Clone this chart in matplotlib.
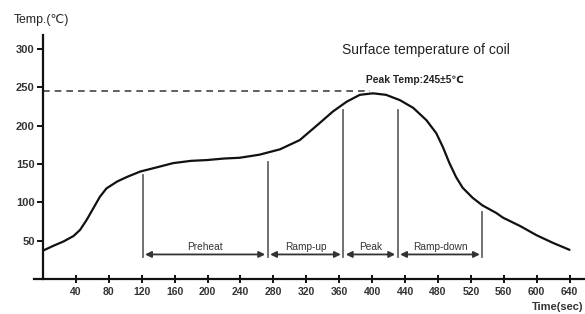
import matplotlib
matplotlib.use("Agg")
import matplotlib.pyplot as plt

# Data
time_s = [0, 12, 25, 37, 45, 53, 61, 69, 77, 90, 102, 118, 140, 158, 180, 199, 220, 239,
          263, 288, 312, 336, 352, 369, 385, 401, 417, 434, 450, 466, 478, 486, 494, 502,
          510, 522, 534, 551, 559, 580, 600, 620, 640]
temp_c = [37, 43, 49, 56, 64, 77, 92, 107, 118, 127, 133, 140, 146, 151, 154, 155, 157, 158,
          162, 169, 181, 203, 218, 231, 240, 242, 240, 233, 223, 207, 190, 172, 151, 133,
          119, 106, 96, 86, 80, 69, 57, 47, 38]

phase_bounds = [121, 273, 365, 431, 534]
bound_tops = [135, 152, 220, 220, 87]
phase_labels = ["Preheat", "Ramp-up", "Peak", "Ramp-down"]

peak_temp = 245
peak_time = 398

x_ticks = list(range(40, 641, 40))
y_ticks = [50, 100, 150, 200, 250, 300]

FONT = ["Liberation Sans", "DejaVu Sans"]
plt.rcParams["font.family"] = FONT

fig = plt.figure(figsize=(5.85, 3.14), dpi=100)
ax = fig.add_axes([34 / 585, 35 / 314, 552 / 585, 244 / 314])
ax.set_xlim(-11, 660)
ax.set_ylim(0, 318)

ax.spines["top"].set_visible(False)
ax.spines["right"].set_visible(False)
ax.spines["left"].set_position(("data", 0))
for s in ("left", "bottom"):
    ax.spines[s].set_linewidth(1.6)
    ax.spines[s].set_color("#111111")

ax.set_xticks(x_ticks)
ax.set_yticks(y_ticks)
ax.tick_params(axis="x", direction="inout", length=6, width=1.4, labelsize=7.5, pad=3, colors="#111111")
ax.tick_params(axis="y", direction="out", length=4, width=1.4, labelsize=8, pad=2, colors="#111111")
for lab in ax.get_xticklabels() + ax.get_yticklabels():
    lab.set_fontweight("bold")
    lab.set_color("#333333")

# Curve
ax.plot(time_s, temp_c, color="#111111", lw=1.6, solid_capstyle="round", solid_joinstyle="round")

# Dashed peak line
ax.plot([0, peak_time], [peak_temp, peak_temp], ls=(0, (4, 3)), color="#444444", lw=1.2)

# Phase boundaries
for b, top in zip(phase_bounds, bound_tops):
    ax.plot([b, b], [29, top], color="#666666", lw=1.3)

# Arrows and labels
arrow_y = 32
for i, lab in enumerate(phase_labels):
    x0 = phase_bounds[i] + 3
    x1 = phase_bounds[i + 1] - 3
    ax.annotate("", xy=(x1, arrow_y), xytext=(x0, arrow_y),
                arrowprops=dict(arrowstyle="<|-|>", color="#333333", lw=1.3,
                                mutation_scale=9, shrinkA=0, shrinkB=0))
    ax.text((phase_bounds[i] + phase_bounds[i + 1]) / 2, arrow_y + 3, lab,
            ha="center", va="bottom", fontsize=7.3, color="#333333")

# Texts
fig.text(14 / 585, 1 - 20 / 314, "Temp.(℃)", fontsize=8.8, va="center", ha="left", color="#222222")
fig.text(426 / 585, 1 - 50 / 314, "Surface temperature of coil", fontsize=10, va="center",
         ha="center", color="#222222")
fig.text(415 / 585, 1 - 80 / 314, "Peak Temp:245±5℃", fontsize=7.4, va="center", ha="center",
         fontweight="bold", color="#222222")
fig.text(583 / 585, 1 - 307 / 314, "Time(sec)", fontsize=8, va="center", ha="right",
         fontweight="bold", color="#333333")

fig.savefig("out.png", dpi=100)
